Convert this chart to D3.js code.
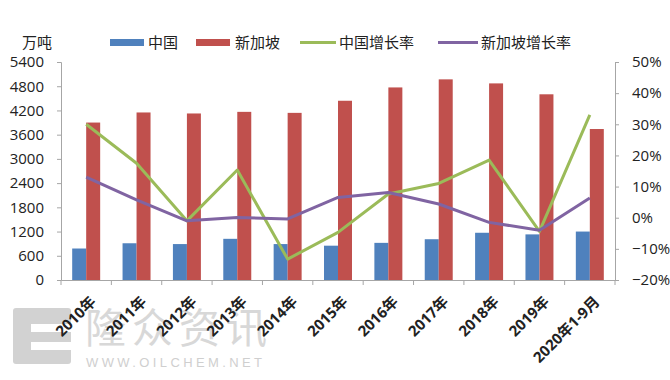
<!DOCTYPE html>
<html>
<head>
<meta charset="utf-8">
<script src="https://cdnjs.cloudflare.com/ajax/libs/d3/7.8.5/d3.min.js"></script>
<style>
	body { margin: 0; background: #fff; }
	svg { display: block; }
	.tick text { font-family: "Open Sans", "Noto Sans CJK SC", sans-serif; }
</style>
</head>
<body>
<div id="chart"></div>
<script>
var categories = ["2010年", "2011年", "2012年", "2013年", "2014年", "2015年", "2016年", "2017年", "2018年", "2019年", "2020年1-9月"];
var chinaValues = [780, 910, 890, 1020, 890, 850, 920, 1010, 1170, 1130, 1200];
var singaporeValues = [3900, 4150, 4125, 4165, 4140, 4440, 4770, 4970, 4870, 4600, 3740];
var chinaGrowth = [0.30, 0.175, -0.01, 0.153, -0.133, -0.047, 0.076, 0.11, 0.185, -0.044, 0.33];
var singaporeGrowth = [0.13, 0.057, -0.01, 0.001, -0.004, 0.065, 0.081, 0.044, -0.015, -0.04, 0.063];
var leftTicks = [0, 600, 1200, 1800, 2400, 3000, 3600, 4200, 4800, 5400];
var rightTicks = [-0.2, -0.1, 0, 0.1, 0.2, 0.3, 0.4, 0.5];
var seriesNames = ["中国", "新加坡", "中国增长率", "新加坡增长率"];
var colors = ["#4F81BD", "#C0504D", "#9BBB59", "#8064A2"];

var width = 670, height = 380;
var margin = {top: 62, right: 55, bottom: 100, left: 61};

var svg = d3.select("#chart").append("svg")
	.attr("width", width)
	.attr("height", height);

//Watermark
var wm = svg.append("g").attr("class", "watermark");
wm.append("rect").attr("x", 13).attr("y", 308).attr("width", 58).attr("height", 56).attr("rx", 3).attr("fill", "#d2d2d2");
wm.append("rect").attr("x", 31).attr("y", 324).attr("width", 40).attr("height", 8).attr("fill", "#fff");
wm.append("rect").attr("x", 31).attr("y", 342).attr("width", 40).attr("height", 8).attr("fill", "#fff");
wm.append("text").attr("x", 85).attr("y", 343)
	.attr("font-family", "Noto Sans CJK SC").attr("font-size", 41).attr("fill", "#d8d8d8")
	.attr("textLength", 182).attr("lengthAdjust", "spacing")
	.text("隆众资讯");
wm.append("text").attr("x", 86).attr("y", 367)
	.attr("font-family", "Liberation Sans").attr("font-size", 13).attr("fill", "#cfcfcf")
	.attr("textLength", 176).attr("lengthAdjust", "spacing")
	.text("WWW.OILCHEM.NET");

//Scales
var x = d3.scaleBand()
	.domain(categories)
	.range([margin.left, width - margin.right])
	.padding(0);
var x1 = d3.scaleBand()
	.domain([0, 1])
	.range([0, x.bandwidth()])
	.paddingInner(0)
	.paddingOuter(0.8);
var yLeft = d3.scaleLinear()
	.domain([0, 5400])
	.range([height - margin.bottom, margin.top]);
var yRight = d3.scaleLinear()
	.domain([-0.2, 0.5])
	.range([height - margin.bottom, margin.top]);

var axisColor = "#a6a6a6";
var tickFont = "Open Sans";

//Left axis
var gLeft = svg.append("g")
	.attr("transform", "translate(" + margin.left + ",0)")
	.call(d3.axisLeft(yLeft).tickValues(leftTicks).tickSize(4).tickPadding(13).tickFormat(d3.format("d")));
gLeft.selectAll("text").attr("font-size", 15).attr("fill", "#222").attr("font-family", tickFont);

//Right axis
var gRight = svg.append("g")
	.attr("transform", "translate(" + (width - margin.right) + ",0)")
	.call(d3.axisRight(yRight).tickValues(rightTicks).tickSize(4).tickPadding(13).tickFormat(d3.format(".0%")));
gRight.selectAll("text").attr("font-size", 15).attr("fill", "#222").attr("font-family", tickFont);

//Bottom axis
var gBottom = svg.append("g")
	.attr("transform", "translate(0," + (height - margin.bottom) + ")")
	.call(d3.axisBottom(x).tickSize(0).tickPadding(0));
gBottom.selectAll(".tick text")
	.attr("font-size", 15)
	.attr("font-weight", "bold")
	.attr("fill", "#222")
	.attr("font-family", "Open Sans, Noto Sans CJK SC")
	.attr("text-anchor", "end")
	.attr("y", 0)
	.attr("dy", "0.35em")
	.attr("transform", "translate(7,19) rotate(-45)");
//Boundary ticks
var boundaries = categories.map(function(c){ return x(c); }).concat([x.range()[1]]);
gBottom.selectAll(".bound")
	.data(boundaries)
	.enter().append("line")
	.attr("class", "bound")
	.attr("x1", function(d){ return d; })
	.attr("x2", function(d){ return d; })
	.attr("y1", 0)
	.attr("y2", 5)
	.attr("stroke", axisColor);

svg.selectAll(".domain").attr("stroke", axisColor);
svg.selectAll(".tick line").attr("stroke", axisColor);

//Bars
var groups = svg.append("g").selectAll("g")
	.data(categories)
	.enter().append("g")
	.attr("transform", function(d){ return "translate(" + x(d) + ",0)"; });

groups.append("rect")
	.attr("x", x1(0))
	.attr("width", x1.bandwidth())
	.attr("y", function(d, i){ return yLeft(chinaValues[i]); })
	.attr("height", function(d, i){ return yLeft(0) - yLeft(chinaValues[i]); })
	.attr("fill", colors[0]);

groups.append("rect")
	.attr("x", x1(1))
	.attr("width", x1.bandwidth())
	.attr("y", function(d, i){ return yLeft(singaporeValues[i]); })
	.attr("height", function(d, i){ return yLeft(0) - yLeft(singaporeValues[i]); })
	.attr("fill", colors[1]);

//Lines
var line = d3.line()
	.x(function(d, i){ return x(categories[i]) + x.bandwidth() / 2; })
	.y(function(d){ return yRight(d); });

[[chinaGrowth, colors[2]], [singaporeGrowth, colors[3]]].forEach(function(s){
	svg.append("path")
		.datum(s[0])
		.attr("d", line)
		.attr("fill", "none")
		.attr("stroke", s[1])
		.attr("stroke-width", 3)
		.attr("stroke-linejoin", "round");
});

//Unit label
svg.append("text")
	.attr("x", 37).attr("y", 48)
	.attr("text-anchor", "middle")
	.attr("font-family", "Noto Sans CJK SC")
	.attr("font-size", 15)
	.attr("fill", "#222")
	.text("万吨");

//Legend
var legendItems = [
	{name: seriesNames[0], color: colors[0], type: "bar", sx: 110, sw: 34, tx: 148},
	{name: seriesNames[1], color: colors[1], type: "bar", sx: 196, sw: 34, tx: 235},
	{name: seriesNames[2], color: colors[2], type: "line", sx: 300, sw: 36, tx: 339},
	{name: seriesNames[3], color: colors[3], type: "line", sx: 438, sw: 40, tx: 481}
];
var legend = svg.append("g").attr("class", "legend");
legendItems.forEach(function(d){
	if (d.type === "bar"){
		legend.append("rect").attr("x", d.sx).attr("y", 39).attr("width", d.sw).attr("height", 7).attr("fill", d.color);
	} else {
		legend.append("line").attr("x1", d.sx).attr("x2", d.sx + d.sw).attr("y1", 42.5).attr("y2", 42.5)
			.attr("stroke", d.color).attr("stroke-width", 3);
	}
	legend.append("text")
		.attr("x", d.tx).attr("y", 48)
		.attr("font-family", "Noto Sans CJK SC")
		.attr("font-size", 15)
		.attr("fill", "#222")
		.text(d.name);
});
</script>
</body>
</html>
